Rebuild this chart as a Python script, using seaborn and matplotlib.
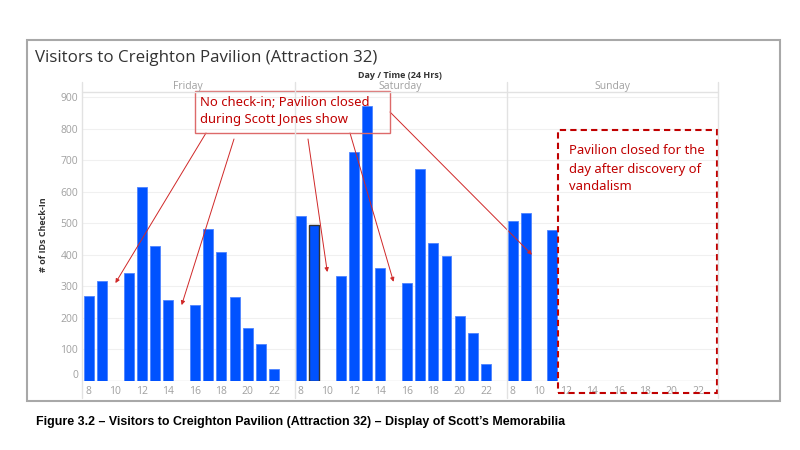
import matplotlib.pyplot as plt
import matplotlib.patches as mpatches
import matplotlib.lines as mlines
import pandas as pd
import seaborn as sns

# check-ins per hour (None = pavilion closed)
hours = [8, 9, 10, 11, 12, 13, 14, 15, 16, 17, 18, 19, 20, 21, 22]
friday = [268, 316, None, 341, 614, 428, 256, None, 240, 483, 409, 266, 167, 117, 36]
saturday = [523, 493, None, 333, 727, 873, 359, None, 310, 671, 436, 395, 204, 150, 52]
sunday = [508, 533, None, 477, None, None, None, None, None, None, None, None, None, None, None]
days = ['Friday', 'Saturday', 'Sunday']
yticks = [0, 100, 200, 300, 400, 500, 600, 700, 800, 900]
xticks = [8, 10, 12, 14, 16, 18, 20, 22]

title = 'Visitors to Creighton Pavilion (Attraction 32)'
caption = 'Figure 3.2 \u2013 Visitors to Creighton Pavilion (Attraction 32) \u2013 Display of Scott\u2019s Memorabilia'
note1 = ['No check-in; Pavilion closed', 'during Scott Jones show']
note2 = ['Pavilion closed for the', 'day after discovery of', 'vandalism']
# (day, hour, level) where the arrows point
arrow_targets = [(0, 10, 310), (0, 15, 240), (1, 10, 345), (1, 15, 314), (2, 9.45, 400)]

BLUE = '#0052ff'
RED = '#c00000'
GRAY_TXT = '#a0a0a0'

W, H = 800, 450
def fx(x):
    return x / W
def fy(y):
    return 1 - y / H

rows = []
for day, vals in zip(days, [friday, saturday, sunday]):
    for h, v in zip(hours, vals):
        if v is not None:
            rows.append({'day': day, 'hour': h, 'visitors': v})
df = pd.DataFrame(rows)

sns.set_theme(style='white')
plt.rcParams['font.family'] = ['Open Sans', 'DejaVu Sans']

fig, axes = plt.subplots(1, 3, figsize=(8, 4.5), dpi=100, sharey=True)
fig.subplots_adjust(left=fx(82.3), right=fx(718), bottom=fy(380.7), top=fy(92.3), wspace=0)

for i, (ax, day) in enumerate(zip(axes, days)):
    sub = df[df.day == day]
    sns.barplot(data=sub, x='hour', y='visitors', native_scale=True, width=0.75,
                color=BLUE, saturation=1, edgecolor='#4d84ff', linewidth=0.6,
                errorbar=None, ax=ax, zorder=3)
    ax.set_xlim(7.5, 23.5)
    ax.set_ylim(0, 915.6)
    ax.set_xticks(xticks)
    ax.set_yticks(yticks)
    ax.set_xlabel('')
    ax.set_ylabel('')
    ax.grid(False)
    ax.yaxis.grid(True, color='#f0f0f0', lw=0.8, zorder=0)
    for s in ax.spines.values():
        s.set_visible(False)
    ax.tick_params(axis='x', length=0, pad=4, labelsize=7.5, labelcolor=GRAY_TXT)
    ax.tick_params(axis='y', length=0, pad=3, labelsize=7.5, labelcolor=GRAY_TXT)
    ax.axhline(0, color='#e2e2e2', lw=1, zorder=2)
    if day == 'Saturday':
        for p in ax.patches:
            if abs(p.get_x() + p.get_width() / 2 - 9) < 0.1:
                p.set_edgecolor('#333333')
                p.set_linewidth(1)
    fig.text(fx(82.3 + 212 * i + 106), fy(87), day, fontsize=7.5, color=GRAY_TXT,
             ha='center', va='center')

lbl0 = axes[0].get_yticklabels()[0]
lbl0.set_va('bottom')

# panel separators and header line
for x in [82.3, 295, 507.3, 718]:
    fig.add_artist(mlines.Line2D([fx(x), fx(x)], [fy(82), fy(398)], color='#e2e2e2', lw=1))
fig.add_artist(mlines.Line2D([fx(82.3), fx(718)], [fy(92.3), fy(92.3)], color='#e2e2e2', lw=1))

# outer frame
fig.add_artist(mpatches.Rectangle((fx(27), fy(401)), fx(753), (401 - 40) / H, fill=False,
                                  edgecolor='#a8a8a8', lw=1.5))

fig.text(fx(35), fy(58), title, fontsize=12.2, color='#333333', ha='left', va='center')
fig.text(fx(400), fy(75), 'Day / Time (24 Hrs)', fontsize=6.5, fontweight='bold',
         color='#333333', ha='center', va='center')
fig.text(fx(44), fy(235), '# of IDs Check-In', fontsize=6.5, fontweight='bold',
         color='#333333', rotation=90, ha='center', va='center')

# annotation box with arrows
fig.add_artist(mpatches.Rectangle((fx(194.5), fy(132.7)), (390 - 194.5) / W, (132.7 - 91) / H,
                                  fill=False, edgecolor='#dd6a6a', lw=1))
for k, line in enumerate(note1):
    fig.text(fx(200), fy(102.5 + 17.5 * k), line, fontsize=9.4, color=RED,
             family=['Noto Sans', 'DejaVu Sans'], ha='left', va='center')
starts = [(206, 133), (234, 139), (308, 139), (350, 133), (390, 112)]
for (d, h, v), (sx, sy) in zip(arrow_targets, starts):
    axes[d].annotate('', xy=(h, v), xycoords='data', xytext=(fx(sx), fy(sy)),
                     textcoords='figure fraction', annotation_clip=False,
                     arrowprops=dict(arrowstyle='-|>', color='#d02828', lw=0.7,
                                     mutation_scale=6, shrinkA=0, shrinkB=0))

# dashed box over Sunday
fig.add_artist(mpatches.Rectangle((fx(557.7), fy(393)), (717 - 557.7) / W, (393 - 130) / H,
                                  fill=False, edgecolor=RED, lw=1.5, linestyle=(0, (3, 2))))
for k, line in enumerate(note2):
    fig.text(fx(569), fy(151 + 18 * k), line, fontsize=9.4, color=RED,
             family=['Noto Sans', 'DejaVu Sans'], ha='left', va='center')

fig.text(fx(36.5), fy(422), caption, fontsize=8.9, fontweight='bold', color='black',
         family=['Liberation Sans Narrow', 'Liberation Sans'], ha='left', va='center')

fig.savefig('out.png', dpi=100)
